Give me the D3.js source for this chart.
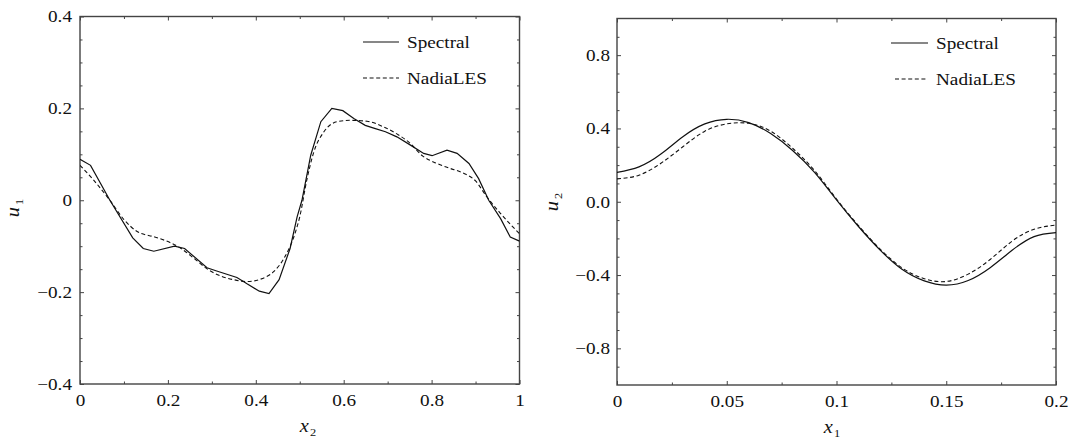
<!DOCTYPE html>
<html><head><meta charset="utf-8">
<script src="https://cdn.jsdelivr.net/npm/d3@7"></script>
<style>
html,body{margin:0;padding:0;background:#fff;}
svg{display:block;}
</style></head>
<body>
<svg id="chart" width="1074" height="439"></svg>
<script>
// ---------- Left panel data (u1 vs x2) ----------
const leftSpectralX = [0, 0.024, 0.068, 0.12, 0.144, 0.168, 0.215, 0.238, 0.289, 0.311, 0.357, 0.38, 0.408, 0.43, 0.453, 0.478, 0.494, 0.505, 0.525, 0.548, 0.573, 0.598, 0.623, 0.649, 0.672, 0.695, 0.721, 0.752, 0.782, 0.801, 0.835, 0.858, 0.885, 0.907, 0.93, 0.957, 0.979, 1];
const leftSpectralY = [0.089, 0.076, 0, -0.082, -0.105, -0.111, -0.1, -0.105, -0.147, -0.154, -0.168, -0.182, -0.198, -0.203, -0.173, -0.105, -0.036, 0, 0.098, 0.171, 0.2, 0.195, 0.178, 0.163, 0.156, 0.149, 0.138, 0.12, 0.102, 0.097, 0.109, 0.102, 0.08, 0.047, 0, -0.04, -0.08, -0.089];
const leftNadiaX = [0, 0.03, 0.068, 0.1, 0.13, 0.17, 0.2, 0.23, 0.26, 0.29, 0.32, 0.35, 0.38, 0.41, 0.44, 0.465, 0.49, 0.5, 0.516, 0.532, 0.555, 0.585, 0.615, 0.653, 0.69, 0.72, 0.75, 0.78, 0.81, 0.84, 0.87, 0.9, 0.926, 0.957, 1];
const leftNadiaY = [0.076, 0.045, 0, -0.042, -0.068, -0.08, -0.09, -0.105, -0.127, -0.15, -0.165, -0.173, -0.177, -0.172, -0.156, -0.125, -0.07, -0.036, 0.044, 0.105, 0.149, 0.171, 0.174, 0.172, 0.16, 0.145, 0.125, 0.096, 0.081, 0.07, 0.06, 0.042, 0.007, -0.029, -0.073];
const leftXMajor = [0, 0.2, 0.4, 0.6, 0.8, 1];
const leftXLabels = ["0", "0.2", "0.4", "0.6", "0.8", "1"];
const leftXMinor = [0.1, 0.3, 0.5, 0.7, 0.9];
const leftYMajor = [-0.4, -0.2, 0, 0.2, 0.4];
const leftYLabels = ["\u22120.4", "\u22120.2", "0", "0.2", "0.4"];
const leftYMinor = [-0.35, -0.3, -0.25, -0.15, -0.1, -0.05, 0.05, 0.1, 0.15, 0.25, 0.3, 0.35];

// ---------- Right panel data (u2 vs x1) ----------
const rightX = [0, 0.01, 0.02, 0.03, 0.04, 0.05, 0.06, 0.07, 0.08, 0.09, 0.10, 0.11, 0.12, 0.13, 0.14, 0.15, 0.16, 0.17, 0.18, 0.19, 0.20];
const rightSpectral = [0.16, 0.19, 0.26, 0.355, 0.425, 0.45, 0.432, 0.372, 0.28, 0.16, 0.01, -0.135, -0.265, -0.37, -0.432, -0.455, -0.43, -0.36, -0.265, -0.19, -0.168];
const rightNadia = [0.125, 0.145, 0.21, 0.30, 0.385, 0.425, 0.428, 0.385, 0.292, 0.17, 0.015, -0.13, -0.26, -0.362, -0.42, -0.435, -0.395, -0.315, -0.215, -0.15, -0.127];
const rightXMajor = [0, 0.05, 0.1, 0.15, 0.2];
const rightXLabels = ["0", "0.05", "0.1", "0.15", "0.2"];
const rightXMinor = [0.025, 0.075, 0.125, 0.175];
const rightYMajor = [-0.8, -0.4, 0, 0.4, 0.8];
const rightYLabels = ["\u22120.8", "\u22120.4", "0.0", "0.4", "0.8"];
const rightYMinor = [-0.9, -0.7, -0.6, -0.5, -0.3, -0.2, -0.1, 0.1, 0.2, 0.3, 0.5, 0.6, 0.7, 0.9];

const seriesNames = ["Spectral", "NadiaLES"];

const FONT = "'Liberation Serif','Times New Roman',serif";
const FS = 17, SX = 1.13, INK = "#111", FRAME = "#444";
const svg = d3.select("#chart");

function drawPanel(cfg) {
  const x = d3.scaleLinear().domain(cfg.xDomain).range([cfg.left, cfg.right]);
  const y = d3.scaleLinear().domain(cfg.yDomain).range([cfg.bottom, cfg.top]);
  const g = svg.append("g");

  const styleAxis = (sel) => {
    sel.select(".domain").remove();
    sel.selectAll("line").attr("stroke", FRAME).attr("stroke-width", 1);
    sel.selectAll("text")
      .attr("font-family", FONT).attr("font-size", FS).attr("fill", INK)
      .attr("transform", `scale(${SX},1)`);
  };
  // bottom
  g.append("g").attr("transform", `translate(0,${cfg.bottom})`)
    .call(d3.axisBottom(x).tickValues(cfg.xMajor).tickSize(-4).tickPadding(10)
      .tickFormat((d, i) => cfg.xLabels[i])).call(styleAxis);
  g.append("g").attr("transform", `translate(0,${cfg.bottom})`)
    .call(d3.axisBottom(x).tickValues(cfg.xMinor).tickSize(-2.5).tickFormat("")).call(styleAxis);
  // top
  g.append("g").attr("transform", `translate(0,${cfg.top})`)
    .call(d3.axisTop(x).tickValues(cfg.xMajor).tickSize(-4).tickFormat("")).call(styleAxis);
  g.append("g").attr("transform", `translate(0,${cfg.top})`)
    .call(d3.axisTop(x).tickValues(cfg.xMinor).tickSize(-2.5).tickFormat("")).call(styleAxis);
  // left
  g.append("g").attr("transform", `translate(${cfg.left},0)`)
    .call(d3.axisLeft(y).tickValues(cfg.yMajor).tickSize(-4).tickPadding(cfg.yGap / SX)
      .tickFormat((d, i) => cfg.yLabels[i])).call(styleAxis);
  g.append("g").attr("transform", `translate(${cfg.left},0)`)
    .call(d3.axisLeft(y).tickValues(cfg.yMinor).tickSize(-2.5).tickFormat("")).call(styleAxis);
  // right
  g.append("g").attr("transform", `translate(${cfg.right},0)`)
    .call(d3.axisRight(y).tickValues(cfg.yMajor).tickSize(-4).tickFormat("")).call(styleAxis);
  g.append("g").attr("transform", `translate(${cfg.right},0)`)
    .call(d3.axisRight(y).tickValues(cfg.yMinor).tickSize(-2.5).tickFormat("")).call(styleAxis);

  // frame
  g.append("rect").attr("x", cfg.left).attr("y", cfg.top)
    .attr("width", cfg.right - cfg.left).attr("height", cfg.bottom - cfg.top)
    .attr("fill", "none").attr("stroke", FRAME).attr("stroke-width", 1.4);

  // lines
  const clipId = "clip" + cfg.id;
  g.append("clipPath").attr("id", clipId).append("rect")
    .attr("x", cfg.left).attr("y", cfg.top)
    .attr("width", cfg.right - cfg.left).attr("height", cfg.bottom - cfg.top);
  const lineS = d3.line().x(d => x(d[0])).y(d => y(d[1])).curve(cfg.curveS);
  const lineN = d3.line().x(d => x(d[0])).y(d => y(d[1])).curve(cfg.curveN);
  g.append("path").attr("clip-path", `url(#${clipId})`)
    .datum(d3.zip(cfg.sX, cfg.sY)).attr("d", lineS)
    .attr("fill", "none").attr("stroke", "#111").attr("stroke-width", 1.2);
  g.append("path").attr("clip-path", `url(#${clipId})`)
    .datum(d3.zip(cfg.nX, cfg.nY)).attr("d", lineN)
    .attr("fill", "none").attr("stroke", "#111").attr("stroke-width", 1.1)
    .attr("stroke-dasharray", "4,2.6");

  // legend
  const L = cfg.legend;
  g.append("line").attr("x1", L.x1).attr("x2", L.x2).attr("y1", L.y1).attr("y2", L.y1)
    .attr("stroke", "#111").attr("stroke-width", 1.2);
  g.append("line").attr("x1", L.dx1).attr("x2", L.x2).attr("y1", L.y2).attr("y2", L.y2)
    .attr("stroke", "#111").attr("stroke-width", 1.1).attr("stroke-dasharray", "4,2.6");
  [[L.y1, seriesNames[0]], [L.y2, seriesNames[1]]].forEach(([yy, name]) => {
    g.append("text").attr("transform", `translate(${L.tx},${yy + 6}) scale(${SX},1)`)
      .attr("font-family", FONT).attr("font-size", FS).attr("fill", INK).text(name);
  });

  // axis titles
  const xt = g.append("text").attr("transform", `translate(${cfg.xTitle[0]},${cfg.xTitle[1]}) scale(${SX},1)`)
    .attr("text-anchor", "middle").attr("font-family", FONT).attr("font-size", FS + 1).attr("fill", INK);
  xt.append("tspan").attr("font-style", "italic").text(cfg.xName[0]);
  xt.append("tspan").attr("font-size", 11).attr("dy", 4).attr("dx", 1).text(cfg.xName[1]);
  const yt = g.append("text").attr("transform", `translate(${cfg.yTitle[0]},${cfg.yTitle[1]}) rotate(-90) scale(${SX},1)`)
    .attr("text-anchor", "middle").attr("font-family", FONT).attr("font-size", FS + 1).attr("fill", INK);
  yt.append("tspan").attr("font-style", "italic").text(cfg.yName[0]);
  yt.append("tspan").attr("font-size", 11).attr("dy", 4).attr("dx", 2).text(cfg.yName[1]);
}

drawPanel({
  id: "L", left: 80, right: 519.5, top: 16.5, bottom: 384,
  xDomain: [0, 1], yDomain: [-0.4, 0.4],
  xMajor: leftXMajor, xLabels: leftXLabels, xMinor: leftXMinor,
  yMajor: leftYMajor, yLabels: leftYLabels, yMinor: leftYMinor, yGap: 8,
  sX: leftSpectralX, sY: leftSpectralY, nX: leftNadiaX, nY: leftNadiaY,
  curveS: d3.curveLinear, curveN: d3.curveMonotoneX,
  legend: {x1: 363, dx1: 363, x2: 399, y1: 42, y2: 78, tx: 407},
  xTitle: [308, 432], xName: ["x", "2"],
  yTitle: [18.5, 208], yName: ["u", "1"]
});

drawPanel({
  id: "R", left: 617, right: 1056, top: 18.5, bottom: 385,
  xDomain: [0, 0.2], yDomain: [-1, 1],
  xMajor: rightXMajor, xLabels: rightXLabels, xMinor: rightXMinor,
  yMajor: rightYMajor, yLabels: rightYLabels, yMinor: rightYMinor, yGap: 7,
  sX: rightX, sY: rightSpectral, nX: rightX, nY: rightNadia,
  curveS: d3.curveNatural, curveN: d3.curveNatural,
  legend: {x1: 891, dx1: 895, x2: 928, y1: 43, y2: 79, tx: 936},
  xTitle: [832, 433], xName: ["x", "1"],
  yTitle: [558, 202], yName: ["u", "2"]
});
</script>
</body></html>
